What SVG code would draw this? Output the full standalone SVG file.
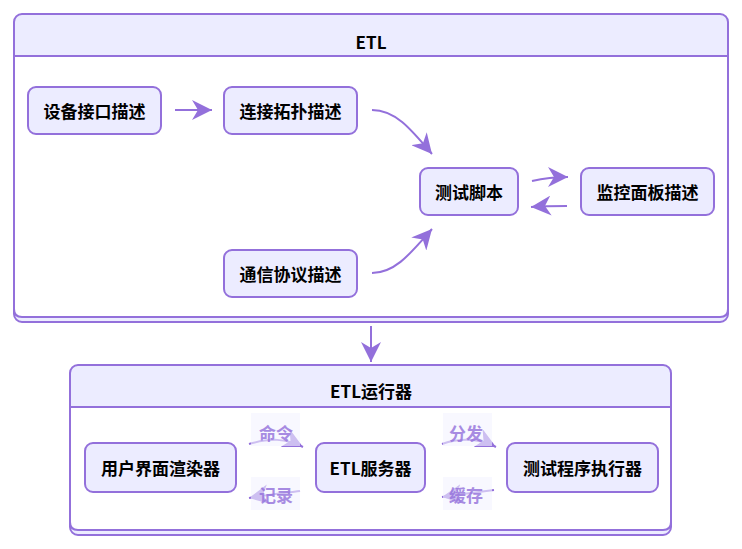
<svg xmlns="http://www.w3.org/2000/svg" width="742" height="549" viewBox="0 0 742 549">
<style>
.cl{fill:#ececff;stroke:#9370db;stroke-width:2}
.inner{fill:#ffffff;stroke:#9370db;stroke-width:2}
.node rect{fill:#ececff;stroke:#9370db;stroke-width:2}
text{font-family:"Noto Sans CJK SC","Noto Sans",sans-serif;font-weight:bold;font-size:17px;fill:#000;text-anchor:middle;dominant-baseline:central}
.edge{fill:none;stroke:#9370db;stroke-width:2}
.lbl rect{fill:#f4f4ff;opacity:0.6}
.lbl text{fill:#9370db;opacity:0.8}
</style>
<defs>
<marker id="ah" viewBox="0 0 20 20" markerWidth="20" markerHeight="20" refX="20" refY="10" orient="auto" markerUnits="userSpaceOnUse">
<path d="M0,0 L20,10 L0,20 L6,10 z" fill="#9370db"/>
</marker>
</defs>
<g id="cluster-ETL">
<rect class="cl" x="14" y="14" width="714" height="308" rx="8"/>
<path class="inner" d="M14,56 H728 V309 Q728,317 720,317 H22 Q14,317 14,309 Z"/>
<text x="371" y="41">ETL</text>
</g>
<g id="cluster-runner">
<rect class="cl" x="70" y="365" width="601" height="170" rx="8"/>
<path class="inner" d="M70,407 H671 V522 Q671,530 663,530 H78 Q70,530 70,522 Z"/>
<text x="371" y="390">ETL运行器</text>
</g>
<g id="connectors">
<path class="edge" d="M175,110 L212,110" marker-end="url(#ah)"/>
<path class="edge" d="M372,110 C395,110 410,128 432,154" marker-end="url(#ah)"/>
<path class="edge" d="M372,273 C395,273 410,254 432,229" marker-end="url(#ah)"/>
<path class="edge" d="M532,181 C545,178 555,177 568,177" marker-end="url(#ah)"/>
<path class="edge" d="M567,206 C555,206 545,206 531,207" marker-end="url(#ah)"/>
<path class="edge" d="M371,326 L371,362" marker-end="url(#ah)"/>
<path class="edge" d="M249,444 C270,438 285,438 303,447" marker-end="url(#ah)"/>
<path class="edge" d="M300,491 C285,493 270,494 249,498" marker-end="url(#ah)"/>
<path class="edge" d="M442,444 C460,438 478,438 496,447" marker-end="url(#ah)"/>
<path class="edge" d="M494,490 C478,492 462,494 442,497" marker-end="url(#ah)"/>
</g>
<g id="edge-labels">
<g class="lbl"><rect x="251" y="413" width="49" height="33"/><text x="276" y="432">命令</text></g>
<g class="lbl"><rect x="251" y="477" width="49" height="33"/><text x="276" y="494">记录</text></g>
<g class="lbl"><rect x="443" y="413" width="49" height="33"/><text x="466" y="432">分发</text></g>
<g class="lbl"><rect x="443" y="477" width="49" height="33"/><text x="466" y="494">缓存</text></g>
</g>
<g id="n-device" class="node"><rect x="28" y="87" width="133" height="47" rx="8"/><text x="94.5" y="110.5">设备接口描述</text></g>
<g id="n-topo" class="node"><rect x="224" y="87" width="133" height="47" rx="8"/><text x="290.5" y="110.5">连接拓扑描述</text></g>
<g id="n-proto" class="node"><rect x="224" y="250" width="133" height="47" rx="8"/><text x="290.5" y="273.5">通信协议描述</text></g>
<g id="n-script" class="node"><rect x="420" y="168" width="98" height="47" rx="8"/><text x="469" y="191.5">测试脚本</text></g>
<g id="n-monitor" class="node"><rect x="581" y="168" width="133" height="47" rx="8"/><text x="647.5" y="191.5">监控面板描述</text></g>
<g id="n-ui" class="node"><rect x="85" y="443" width="151" height="49" rx="8"/><text x="160.5" y="467.5">用户界面渲染器</text></g>
<g id="n-server" class="node"><rect x="316" y="443" width="109" height="49" rx="8"/><text x="370.5" y="467.5">ETL服务器</text></g>
<g id="n-exec" class="node"><rect x="507" y="443" width="151" height="49" rx="8"/><text x="582.5" y="467.5">测试程序执行器</text></g>
</svg>
